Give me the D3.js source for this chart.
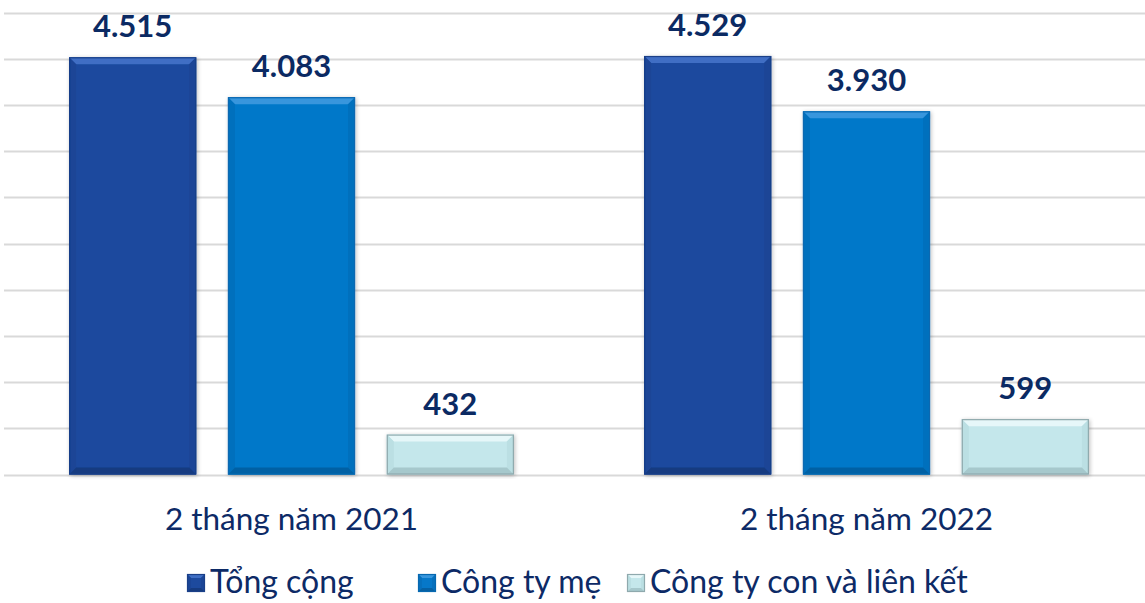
<!DOCTYPE html>
<html>
<head>
<meta charset="utf-8">
<style>
  body { margin: 0; background: #fff; }
  svg { display: block; }
  text { font-family: Lato, "Open Sans", sans-serif; }
  .val { font-weight: bold; fill: #0b2a63; font-size: 31px; text-anchor: middle; }
  .cat { fill: #0d2a66; font-size: 31.5px; text-anchor: middle; }
  .leg { fill: #0d2a66; font-size: 32px; }
</style>
<script src="https://d3js.org/d3.v7.min.js"></script>
</head>
<body>
<script>
// data
const categories = ['2 tháng năm 2021', '2 tháng năm 2022'];
const seriesNames = ['Tổng cộng', 'Công ty mẹ', 'Công ty con và liên kết'];
const tongCong = [4515, 4529];
const congTyMe = [4083, 3930];
const congTyCon = [432, 599];
const valueLabels = [['4.515', '4.083', '432'], ['4.529', '3.930', '599']];

const W = 1145, H = 603;
const values = [tongCong, congTyMe, congTyCon];

// bar looks: main, top bevel, side, bottom, outline
const looks = [
  { main: '#1d4a9e', top: '#3f6ec4', side: '#1b4596', bot: '#163b80', line: '#1a3f88' },
  { main: '#0678c9', top: '#3796dd', side: '#0670bd', bot: '#0661a4', line: '#0768b0' },
  { main: '#c4e7eb', top: '#e6f7f9', side: '#bbdfe3', bot: '#a6c8cc', line: '#8fa9ad' }
];

const svg = d3.select('body').append('svg')
  .attr('width', W).attr('height', H);

const x0 = d3.scaleBand().domain(categories).range([4, 1154]);
const x1 = d3.scaleBand().domain(seriesNames).range([0, x0.bandwidth()])
  .paddingInner(0.2).paddingOuter(0.41);
const y = d3.scaleLinear().domain([0, 5000]).range([474.5, 12.5]);

// grid
svg.append('g').selectAll('line')
  .data(y.ticks(10))
  .join('line')
  .attr('x1', 4).attr('x2', W)
  .attr('y1', d => Math.round(y(d)) + 0.5).attr('y2', d => Math.round(y(d)) + 0.5)
  .attr('stroke', '#d9d9d9').attr('stroke-width', 2);

function bevelBar(g, bx, by, bw, bh, lk, b) {
  b = Math.min(b, bh / 2, bw / 2);
  const xr = bx + bw, yb = by + bh;
  g.append('rect').attr('x', bx).attr('y', by).attr('width', bw).attr('height', bh).attr('fill', lk.main);
  g.append('polygon').attr('points', [[bx, by], [xr, by], [xr - b, by + b], [bx + b, by + b]].join(' ')).attr('fill', lk.top);
  g.append('polygon').attr('points', [[bx, by], [bx + b, by + b], [bx + b, yb - b], [bx, yb]].join(' ')).attr('fill', lk.side);
  g.append('polygon').attr('points', [[xr, by], [xr - b, by + b], [xr - b, yb - b], [xr, yb]].join(' ')).attr('fill', lk.side);
  g.append('polygon').attr('points', [[bx, yb], [bx + b, yb - b], [xr - b, yb - b], [xr, yb]].join(' ')).attr('fill', lk.bot);
  g.append('rect').attr('x', bx + 0.5).attr('y', by + 0.5).attr('width', bw - 1).attr('height', bh - 1)
    .attr('fill', 'none').attr('stroke', lk.line).attr('stroke-width', 1.2);
}

// shadow filter
const defs = svg.append('defs');
const f = defs.append('filter').attr('id', 'sh').attr('x', '-10%').attr('y', '-10%').attr('width', '120%').attr('height', '120%');
f.append('feGaussianBlur').attr('in', 'SourceAlpha').attr('stdDeviation', 2);
f.append('feOffset').attr('dx', 1).attr('dy', 1).attr('result', 'o');
f.append('feComponentTransfer').append('feFuncA').attr('type', 'linear').attr('slope', 0.25);
const fm = f.append('feMerge');
fm.append('feMergeNode');
fm.append('feMergeNode').attr('in', 'SourceGraphic');

categories.forEach((cat, ci) => {
  seriesNames.forEach((s, si) => {
    const v = values[si][ci];
    const bx = x0(cat) + x1(s);
    const by = y(v);
    const g = svg.append('g').attr('filter', 'url(#sh)');
    bevelBar(g, bx, by, x1.bandwidth(), y(0) - by, looks[si], 7);
    svg.append('text').attr('class', 'val')
      .attr('x', bx + x1.bandwidth() / 2).attr('y', by - 20)
      .text(valueLabels[ci][si]);
  });
  svg.append('text').attr('class', 'cat')
    .attr('x', x0(cat) + x0.bandwidth() / 2).attr('y', 530)
    .text(cat);
});

// legend
const legX = [187, 418, 627];
seriesNames.forEach((s, si) => {
  const g = svg.append('g');
  bevelBar(g, legX[si], 574, 18, 18, looks[si], 4);
  svg.append('text').attr('class', 'leg')
    .attr('x', legX[si] + 23).attr('y', 593).text(s);
});
</script>
</body>
</html>
